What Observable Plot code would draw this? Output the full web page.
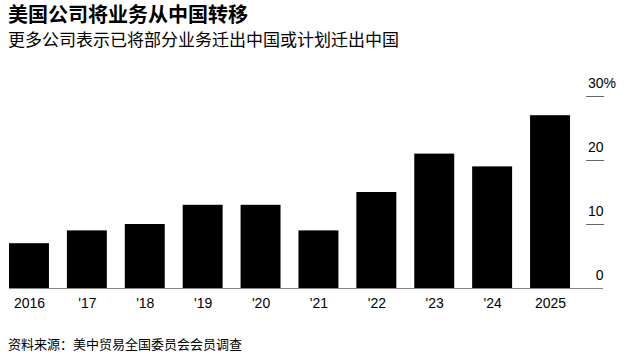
<!DOCTYPE html>
<html>
<head>
<meta charset="utf-8">
<script src="https://cdn.jsdelivr.net/npm/d3@7"></script>
<script src="https://cdn.jsdelivr.net/npm/@observablehq/plot@0.6"></script>
<style>
  html, body { margin: 0; padding: 0; background: #fff; }
  #wrap { position: relative; width: 627px; height: 357px; overflow: hidden; font-family: "Noto Sans CJK SC", "Liberation Sans", sans-serif; color: #000; }
  #title { position: absolute; left: 8px; top: 2px; font-size: 20px; line-height: 24px; font-weight: 700; white-space: nowrap; }
  #subtitle { position: absolute; left: 8px; top: 28px; font-size: 17px; line-height: 22px; font-weight: 400; white-space: nowrap; }
  #chart { position: absolute; left: 0; top: 60px; }
  #source { position: absolute; left: 8px; top: 335px; font-size: 13px; line-height: 18px; white-space: nowrap; }
</style>
</head>
<body>
<div id="wrap">
  <div id="title"></div>
  <div id="subtitle"></div>
  <div id="chart"></div>
  <div id="source"></div>
</div>
<script>
const titleText = "美国公司将业务从中国转移";
const subtitleText = "更多公司表示已将部分业务迁出中国或计划迁出中国";
const sourceText = "资料来源：美中贸易全国委员会会员调查";

const years = ["2016", "'17", "'18", "'19", "'20", "'21", "'22", "'23", "'24", "2025"];
const shares = [7, 9, 10, 13, 13, 9, 15, 21, 19, 27];
const yTickLines = [10, 20, 30];
const yTickLabels = [0, 10, 20, 30];

document.getElementById("title").textContent = titleText;
document.getElementById("subtitle").textContent = subtitleText;
document.getElementById("source").textContent = sourceText;

const data = years.map((y, i) => ({year: y, value: shares[i]}));

const chart = Plot.plot({
  width: 627,
  height: 260,
  marginTop: 36,
  marginBottom: 32,
  marginLeft: 9,
  marginRight: 42,
  style: {fontFamily: "'Liberation Sans', Arial, sans-serif", fontSize: "14px", color: "#000", background: "transparent"},
  x: {domain: years, range: [9, 570], paddingInner: 0.31, paddingOuter: 0, round: false, label: null},
  y: {domain: [0, 30], label: null},
  marks: [
    Plot.barY(data, {x: "year", y: "value", fill: "#000"}),
    Plot.ruleY([0], {stroke: "#888", strokeWidth: 1, insetLeft: 0, insetRight: -18}),
    Plot.axisX({tickSize: 0, tickPadding: 10, fontSize: 14, fill: "#000"}),
    Plot.axisY(yTickLines, {anchor: "right", tickSize: 18, stroke: "#666", text: null, label: null}),
    Plot.axisY(yTickLabels, {anchor: "right", tickSize: 0, tickPadding: 18, textAnchor: "end", dy: -13, fontSize: 14, fill: "#000", label: null, tickFormat: d => String(d)}),
    Plot.axisY([30], {anchor: "right", tickSize: 0, tickPadding: 18, textAnchor: "start", dy: -13, fontSize: 14, fill: "#000", label: null, tickFormat: () => "%"})
  ]
});
document.getElementById("chart").appendChild(chart);
</script>
</body>
</html>
